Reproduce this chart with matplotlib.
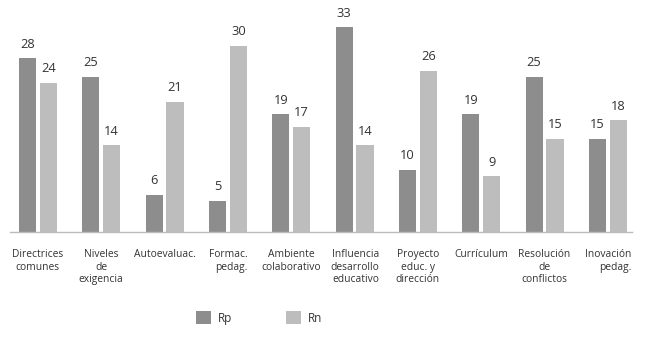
import numpy as np
import matplotlib
matplotlib.use('Agg')
import matplotlib.pyplot as plt

# Data
categories = [
    "Directrices\ncomunes",
    "Niveles\nde\nexigencia",
    "Autoevaluac.",
    "Formac.\npedag.",
    "Ambiente\ncolaborativo",
    "Influencia\ndesarrollo\neducativo",
    "Proyecto\neduc. y\ndirección",
    "Currículum",
    "Resolución\nde\nconflictos",
    "Inovación\npedag.",
]
label_align = ["center", "center", "center", "right", "center",
               "right", "center", "center", "center", "right"]
rp_values = [28, 25, 6, 5, 19, 33, 10, 19, 25, 15]
rn_values = [24, 14, 21, 30, 17, 14, 26, 9, 15, 18]

DARK = "#8d8d8d"
LIGHT = "#bdbdbd"

plt.rcParams['font.family'] = ['Open Sans', 'DejaVu Sans']

fig = plt.figure(figsize=(6.46, 3.40), dpi=100)
ax = fig.add_axes([10 / 646, 108 / 340, 622 / 646, 232 / 340])

x = np.arange(len(categories))
width = 0.27
offset = 0.165

bars_rp = ax.bar(x - offset, rp_values, width, color=DARK, label="Rp")
bars_rn = ax.bar(x + offset, rn_values, width, color=LIGHT, label="Rn")

for bars in (bars_rp, bars_rn):
    for b in bars:
        ax.annotate(str(int(b.get_height())),
                    (b.get_x() + b.get_width() / 2, b.get_height()),
                    xytext=(0, 5.5), textcoords="offset points",
                    ha="center", va="bottom", fontsize=9.3, color="#333333")

for xi, lab, al in zip(x, categories, label_align):
    ax.text(xi, -0.075, lab, transform=ax.get_xaxis_transform(),
            ha="center", va="top", multialignment=al,
            fontsize=7.4, color="#333333", linespacing=1.15)

ax.set_xlim(-0.44, 9.38)
ax.set_ylim(0, 37.4)
for s in ("top", "right", "left"):
    ax.spines[s].set_visible(False)
ax.spines["bottom"].set_color("#bbbbbb")
ax.spines["bottom"].set_linewidth(1.0)
ax.set_xticks([])
ax.set_yticks([])

fig.legend(handles=[bars_rp, bars_rn], labels=["Rp", "Rn"], ncol=2,
           loc="center", bbox_to_anchor=(259 / 646, 1 - 318 / 340),
           frameon=False, fontsize=8.5, handlelength=1.3, handleheight=1.3,
           columnspacing=4.5, handletextpad=0.6, labelcolor="#333333")

fig.savefig("out.png", dpi=100)
